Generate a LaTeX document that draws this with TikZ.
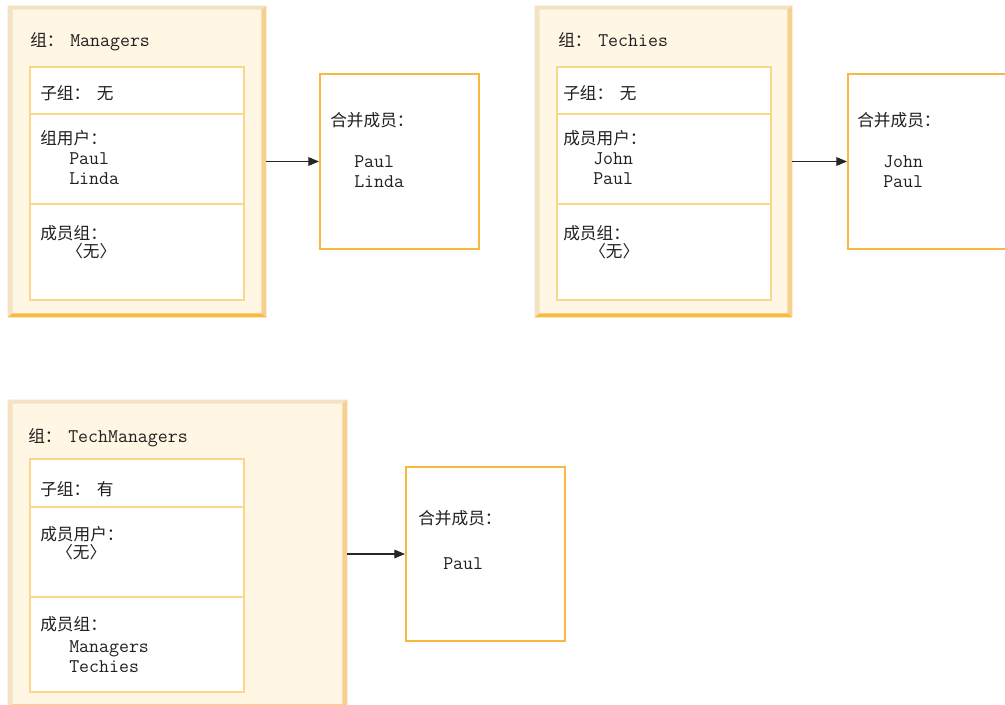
\documentclass[tikz,border=0pt]{standalone}
\usepackage{fontspec}
\newfontfamily\cjk{Noto Sans CJK SC}
\usetikzlibrary{arrows.meta,fit,calc}
\definecolor{gfill}{HTML}{FFF7E3}
\definecolor{btl}{HTML}{F3E2C3}
\definecolor{bright}{HTML}{F6D08E}
\definecolor{bbottom}{HTML}{F9BB3D}
\definecolor{inner}{HTML}{FCD78A}
\definecolor{rbord}{HTML}{F9B940}
\definecolor{txtcol}{HTML}{202020}
\newcommand\zh[1]{{\cjk\fontsize{12.5pt}{14pt}\selectfont #1}}
\newcommand\mo[1]{{\ttfamily\fontsize{14.5pt}{17pt}\selectfont #1}}
\tikzset{
  tx/.style={anchor=base west, inner sep=0pt, text=txtcol},
  gbox/.style={fill=gfill, inner sep=0pt, draw=none},
  ibox/.style={draw=inner, line width=0.9pt, fill=white, inner sep=0pt},
  rbox/.style={draw=rbord, line width=1.5pt, fill=white, inner sep=0pt},
  conn/.style={draw=black!85, line width=0.9pt, -{Triangle[length=8pt,width=6.5pt]}}
}
\newcommand\bevel[1]{%
  \fill[btl] (#1.north west) -- (#1.north east) -- ($(#1.north east)+(-5,4)$) -- ($(#1.north west)+(5,4)$) -- cycle;
  \fill[btl] (#1.north west) -- ($(#1.north west)+(5,4)$) -- ($(#1.south west)+(5,-4)$) -- (#1.south west) -- cycle;
  \fill[bright] (#1.north east) -- (#1.south east) -- ($(#1.south east)+(-5,-4)$) -- ($(#1.north east)+(-5,4)$) -- cycle;
  \fill[bbottom] (#1.south west) -- (#1.south east) -- ($(#1.south east)+(-5,-4)$) -- ($(#1.south west)+(5,-4)$) -- cycle;
}
\begin{document}
\begin{tikzpicture}[x=0.75pt,y=-0.75pt]
\useasboundingbox (0,0) rectangle (1005,705);
\clip (0,0) rectangle (1005,705);
\fill[white] (0,0) rectangle (1005,705);

% ---------- Group 1: Managers ----------
\node[gbox, fit={(8,6) (266,317)}] (g1) {};
\bevel{g1}
\node[ibox, fit={(30,67) (244,300)}] (g1i) {};
\draw[inner, line width=0.9pt] (30,114) -- (244,114) (30,204) -- (244,204);
\node[tx] (g1t) at (30,47) {\zh{组：}\hspace{5pt}\mo{Managers}};
\node[tx] (g1a) at (40,100) {\zh{子组：}\hspace{5pt}\zh{无}};
\node[tx] (g1b) at (40,145) {\zh{组用户：}};
\node[tx] (g1b1) at (69,165) {\mo{Paul}};
\node[tx] (g1b2) at (69,185) {\mo{Linda}};
\node[tx] (g1c) at (40,240) {\zh{成员组：}};
\node[tx] (g1c1) at (66,258) {\zh{〈无〉}};

\node[rbox, fit={(320,74) (479,249)}] (r1) {};
\node[tx] (r1t) at (330,127) {\zh{合并成员：}};
\node[tx] (r1a) at (354,168) {\mo{Paul}};
\node[tx] (r1b) at (354,188) {\mo{Linda}};
\draw[conn] (g1.east) -- (r1.west);

% ---------- Group 2: Techies ----------
\node[gbox, fit={(535,6) (792,317)}] (g2) {};
\bevel{g2}
\node[ibox, fit={(557,67) (771,300)}] (g2i) {};
\draw[inner, line width=0.9pt] (557,114) -- (771,114) (557,204) -- (771,204);
\node[tx] (g2t) at (558,47) {\zh{组：}\hspace{5pt}\mo{Techies}};
\node[tx] (g2a) at (563,100) {\zh{子组：}\hspace{5pt}\zh{无}};
\node[tx] (g2b) at (563,145) {\zh{成员用户：}};
\node[tx] (g2b1) at (593,165) {\mo{John}};
\node[tx] (g2b2) at (593,185) {\mo{Paul}};
\node[tx] (g2c) at (563,240) {\zh{成员组：}};
\node[tx] (g2c1) at (589,258) {\zh{〈无〉}};

\node[rbox, fit={(848,74) (1012,249)}] (r2) {};
\node[tx] (r2t) at (857,127) {\zh{合并成员：}};
\node[tx] (r2a) at (883,168) {\mo{John}};
\node[tx] (r2b) at (883,188) {\mo{Paul}};
\draw[conn] (g2.east) -- (r2.west);

% ---------- Group 3: TechManagers ----------
\node[gbox, fit={(8,400) (347,708)}] (g3) {};
\bevel{g3}
\node[ibox, fit={(30,459) (244,692)}] (g3i) {};
\draw[inner, line width=0.9pt] (30,507) -- (244,507) (30,597) -- (244,597);
\node[tx] (g3t) at (28,442) {\zh{组：}\hspace{5pt}\mo{TechManagers}};
\node[tx] (g3a) at (40,495) {\zh{子组：}\hspace{5pt}\zh{有}};
\node[tx] (g3b) at (40,540) {\zh{成员用户：}};
\node[tx] (g3b1) at (56,558) {\zh{〈无〉}};
\node[tx] (g3c) at (40,630) {\zh{成员组：}};
\node[tx] (g3c1) at (69,652) {\mo{Managers}};
\node[tx] (g3c2) at (69,672) {\mo{Techies}};

\node[rbox, fit={(406,467) (565,641)}] (r3) {};
\node[tx] (r3t) at (418,524) {\zh{合并成员：}};
\node[tx] (r3a) at (443,569) {\mo{Paul}};
\draw[conn] (g3.east) -- (r3.west);
\end{tikzpicture}
\end{document}
